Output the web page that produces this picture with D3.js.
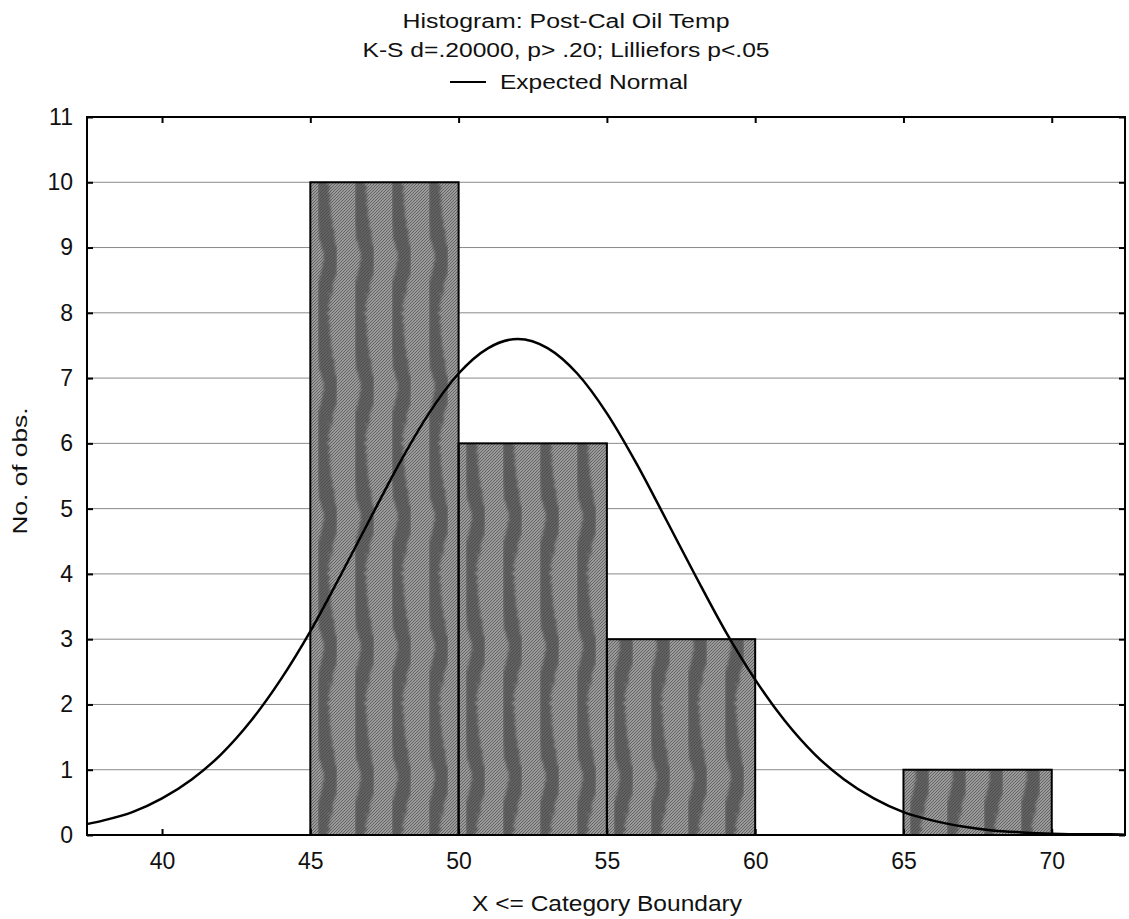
<!DOCTYPE html>
<html>
<head>
<meta charset="utf-8">
<script src="https://cdn.jsdelivr.net/npm/d3@7"></script>
<style>
  body { margin: 0; background: #fff; }
  text { font-family: "Liberation Sans", Arial, sans-serif; fill: #111; }
</style>
</head>
<body>
<div id="chart"></div>
<script>
// histogram bins (upper boundary = category boundary)
const binStarts = [45, 50, 55, 60, 65];
const binEnds = [50, 55, 60, 65, 70];
const counts = [10, 6, 3, 0, 1];

// expected normal curve
const curveX = [37.5, 38, 39, 40, 41, 42, 43, 44, 45, 46, 47, 48, 49, 50, 51, 52,
  53, 54, 55, 56, 57, 58, 59, 60, 61, 62, 63, 64, 65, 66, 67, 68, 69, 70, 71, 72, 72.5];
const curveY = [0.17, 0.22, 0.35, 0.56, 0.85, 1.24, 1.75, 2.38, 3.12, 3.96, 4.83, 5.69, 6.46, 7.07, 7.46, 7.6,
  7.46, 7.07, 6.46, 5.69, 4.83, 3.96, 3.12, 2.38, 1.75, 1.24, 0.85, 0.56, 0.35, 0.22, 0.13, 0.07, 0.04, 0.02, 0.01, 0.01, 0.005];

const xTicks = [40, 45, 50, 55, 60, 65, 70];
const yTicks = [0, 1, 2, 3, 4, 5, 6, 7, 8, 9, 10, 11];

const titleLines = ["Histogram: Post-Cal Oil Temp", "K-S d=.20000, p> .20; Lilliefors p<.05"];
const legendLabel = "Expected Normal";
const xTitle = "X <= Category Boundary";
const yTitle = "No. of obs.";

const W = 1129, H = 919;
const M = {left: 87, right: 4, top: 117, bottom: 84};

const svg = d3.select("#chart").append("svg")
  .attr("width", W).attr("height", H);

const x = d3.scaleLinear().domain([37.47, 72.47]).range([M.left, W - M.right]);
const y = d3.scaleLinear().domain([0, 11]).range([H - M.bottom, M.top]);

const defs = svg.append("defs");

// fine hatch like the scanned halftone
const hatch = defs.append("pattern").attr("id", "hatch")
  .attr("patternUnits", "userSpaceOnUse").attr("width", 3).attr("height", 3);
hatch.append("rect").attr("width", 3).attr("height", 3).attr("fill", "#9a9a9a");
hatch.append("path").attr("d", "M0,3 L3,0").attr("stroke", "#656565").attr("stroke-width", 1);

// ragged, soft edges for the dark bands
const blur = defs.append("filter").attr("id", "soft")
  .attr("x", "-20%").attr("y", "-20%").attr("width", "140%").attr("height", "140%");
blur.append("feTurbulence").attr("type", "fractalNoise").attr("baseFrequency", 0.25)
  .attr("numOctaves", 2).attr("result", "noise");
blur.append("feDisplacementMap").attr("in", "SourceGraphic").attr("in2", "noise")
  .attr("scale", 7).attr("result", "disp");
blur.append("feGaussianBlur").attr("in", "disp").attr("stdDeviation", 1.2);

// wavy darker bands
const wave = defs.append("pattern").attr("id", "wave")
  .attr("patternUnits", "userSpaceOnUse").attr("width", 37).attr("height", 130)
  .attr("x", 310);
wave.append("path")
  .attr("d", "M24,-4 C12,30 10,45 12,65 C14,85 14,100 24,134")
  .attr("fill", "none").attr("stroke", "#484848").attr("stroke-width", 15)
  .attr("stroke-opacity", 0.7).attr("filter", "url(#soft)");

defs.append("clipPath").attr("id", "plotclip").append("rect")
  .attr("x", M.left).attr("y", M.top)
  .attr("width", W - M.left - M.right).attr("height", H - M.top - M.bottom);

// grid lines
svg.append("g").selectAll("line").data(yTicks.slice(1, -1)).join("line")
  .attr("x1", M.left).attr("x2", W - M.right)
  .attr("y1", d => y(d)).attr("y2", d => y(d))
  .attr("stroke", "#8a8a8a").attr("stroke-width", 1);

// bars
const bins = counts.map((c, i) => ({x0: binStarts[i], x1: binEnds[i], n: c})).filter(d => d.n > 0);
const bars = svg.append("g");
bars.selectAll("rect.base").data(bins).join("rect").attr("class", "base")
  .attr("x", d => x(d.x0)).attr("width", d => x(d.x1) - x(d.x0))
  .attr("y", d => y(d.n)).attr("height", d => y(0) - y(d.n))
  .attr("fill", "url(#hatch)");
bars.selectAll("rect.wave").data(bins).join("rect").attr("class", "wave")
  .attr("x", d => x(d.x0)).attr("width", d => x(d.x1) - x(d.x0))
  .attr("y", d => y(d.n)).attr("height", d => y(0) - y(d.n))
  .attr("fill", "url(#wave)")
  .attr("stroke", "#000").attr("stroke-width", 2);

// expected normal curve
const line = d3.line().x((d, i) => x(curveX[i])).y(d => y(d)).curve(d3.curveMonotoneX);
svg.append("path").datum(curveY)
  .attr("clip-path", "url(#plotclip)")
  .attr("d", line)
  .attr("fill", "none").attr("stroke", "#000").attr("stroke-width", 2.5);

// frame
svg.append("rect")
  .attr("x", M.left).attr("y", M.top)
  .attr("width", W - M.left - M.right).attr("height", H - M.top - M.bottom)
  .attr("fill", "none").attr("stroke", "#000").attr("stroke-width", 2);

// axes with inward ticks
const xAxis = svg.append("g").attr("transform", `translate(0,${H - M.bottom})`)
  .call(d3.axisBottom(x).tickValues(xTicks).tickSizeInner(-6).tickSizeOuter(0).tickPadding(18));
const xTop = svg.append("g").attr("transform", `translate(0,${M.top})`)
  .call(d3.axisTop(x).tickValues(xTicks).tickSizeInner(-6).tickSizeOuter(0).tickFormat(""));
const yAxis = svg.append("g").attr("transform", `translate(${M.left},0)`)
  .call(d3.axisLeft(y).tickValues(yTicks).tickSizeInner(-6).tickSizeOuter(0).tickPadding(14));
const yRight = svg.append("g").attr("transform", `translate(${W - M.right},0)`)
  .call(d3.axisRight(y).tickValues(yTicks).tickSizeInner(-6).tickSizeOuter(0).tickFormat(""));
[xAxis, xTop, yAxis, yRight].forEach(g => {
  g.select(".domain").remove();
  g.selectAll(".tick line").attr("stroke", "#000").attr("stroke-width", 2);
  g.selectAll("text").attr("font-size", 23).attr("font-family", "Liberation Sans, Arial, sans-serif").attr("fill", "#111");
});

// titles
svg.append("text").attr("x", 566).attr("y", 28).attr("text-anchor", "middle")
  .attr("font-size", 20).attr("textLength", 327).attr("lengthAdjust", "spacingAndGlyphs")
  .text(titleLines[0]);
svg.append("text").attr("x", 566).attr("y", 57).attr("text-anchor", "middle")
  .attr("font-size", 20).attr("textLength", 407).attr("lengthAdjust", "spacingAndGlyphs")
  .text(titleLines[1]);
svg.append("line").attr("x1", 450).attr("x2", 486).attr("y1", 82).attr("y2", 82)
  .attr("stroke", "#000").attr("stroke-width", 2);
svg.append("text").attr("x", 500).attr("y", 89)
  .attr("font-size", 20).attr("textLength", 188).attr("lengthAdjust", "spacingAndGlyphs")
  .text(legendLabel);

svg.append("text").attr("x", 607).attr("y", 911).attr("text-anchor", "middle")
  .attr("font-size", 22).attr("textLength", 270).attr("lengthAdjust", "spacingAndGlyphs")
  .text(xTitle);
svg.append("text").attr("transform", "translate(27,471) rotate(-90)").attr("text-anchor", "middle")
  .attr("font-size", 21).attr("textLength", 127).attr("lengthAdjust", "spacingAndGlyphs")
  .text(yTitle);
</script>
</body>
</html>
